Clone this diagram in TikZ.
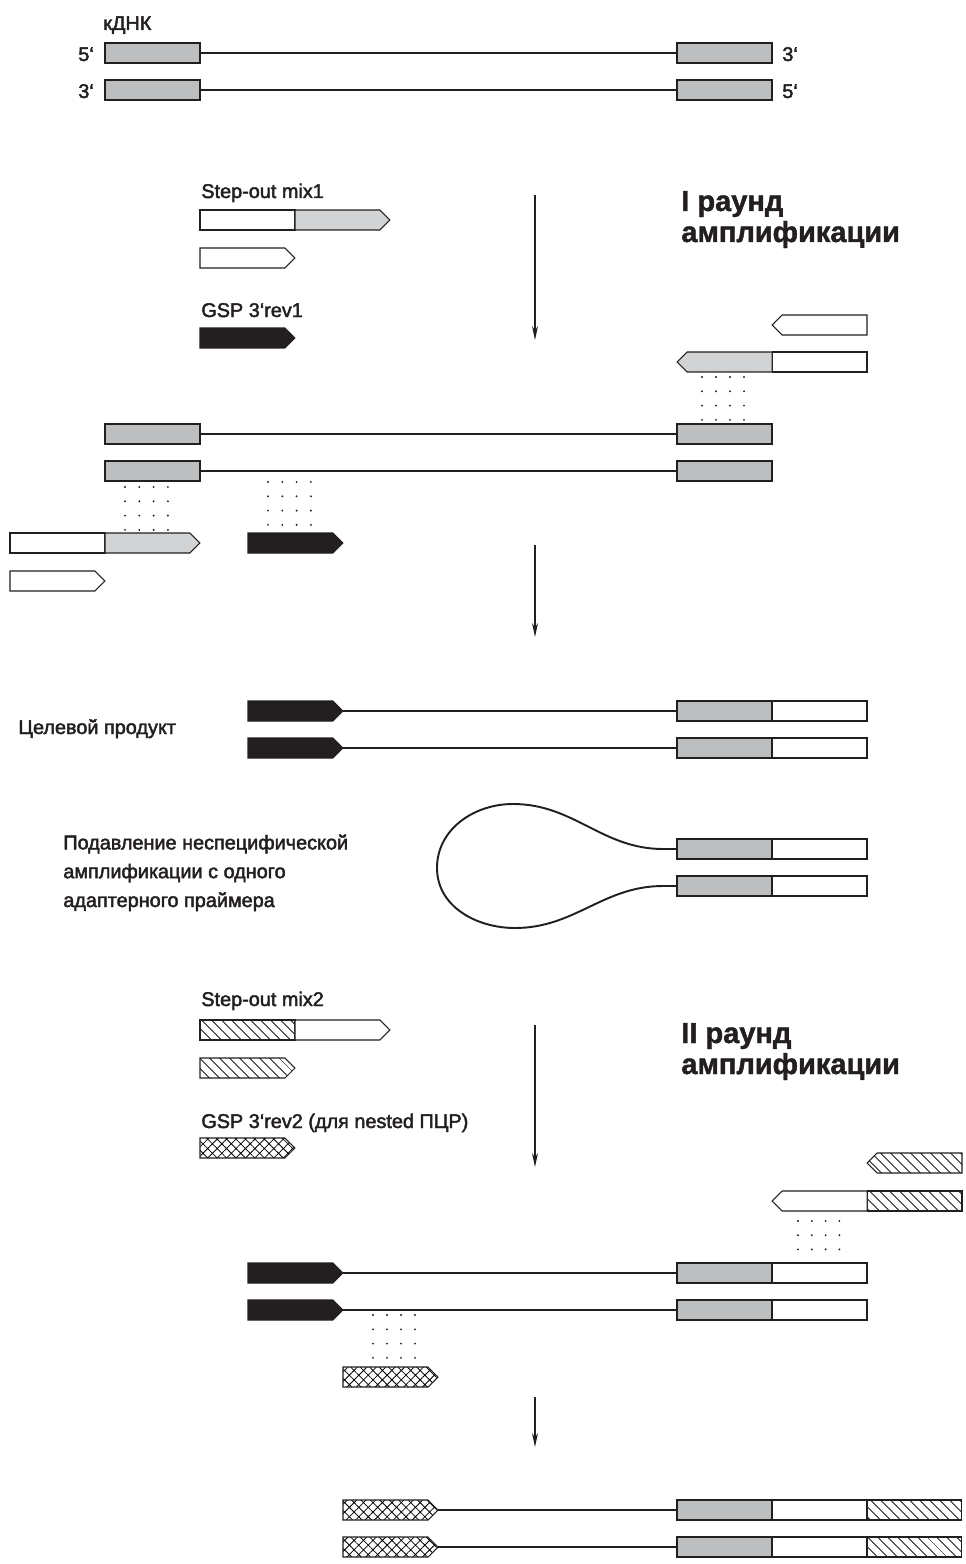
\documentclass[tikz,border=0pt]{standalone}
\usepackage{fontspec}
\setmainfont{Liberation Sans}
\newfontfamily\labelfont[FakeBold=2.2]{Liberation Sans}
\newfontfamily\titlefont[FakeBold=1.5]{Liberation Sans Bold}
\usetikzlibrary{shapes.symbols,patterns.meta,arrows.meta,positioning}
\definecolor{exongray}{HTML}{BCBEC0}
\definecolor{primergray}{HTML}{D1D3D4}
\definecolor{ink}{HTML}{231F20}

\tikzset{
  lbl/.style={font=\labelfont\fontsize{11.3}{16.4}\selectfont, text=ink, inner sep=0pt, anchor=base west, align=left},
  ttl/.style={font=\titlefont\fontsize{16.5}{17}\selectfont, text=ink, inner sep=0pt, anchor=base west},
  strand/.style={draw=ink, line width=1.1pt},
  blk/.style={rectangle, draw=ink, line width=0.6pt, minimum width=1.9cm, minimum height=0.4cm, inner sep=0pt, outer sep=0pt, anchor=west},
  exon/.style={blk, fill=exongray},
  adapter/.style={blk, fill=white},
  hatchbox/.style={blk, pattern={Lines[angle=-45,distance=4pt,line width=0.45pt]}},
  primer/.style={signal, signal to=east, signal pointer angle=90, draw=ink, line width=0.6pt, minimum width=1.9cm, minimum height=0.4cm, inner sep=0pt, outer sep=0pt, anchor=west},
  rprimer/.style={primer, signal to=west, anchor=east},
  grayp/.style={fill=primergray},
  whitep/.style={fill=white},
  gsp/.style={fill=ink},
  hatchp/.style={pattern={Lines[angle=-45,distance=4pt,line width=0.45pt]}},
  nestp/.style={pattern={Hatch[angle=45,distance=3.8pt,line width=0.45pt]}},
  stepline/.style={draw=ink, line width=0.6pt, -{Stealth[length=8pt,width=3.4pt]}}
}

\begin{document}
\begin{tikzpicture}[x=0.02cm, y=-0.02cm]
\useasboundingbox (0,0) rectangle (965,1564);

% cDNA
\node[lbl] (cdna) at (103,30) {кДНК};
\node[lbl] (e5a) at (78,61) {5‘};
\node[lbl] (e3a) at (78,98) {3‘};
\node[exon] (c1l) at (105,53) {};
\node[exon] (c1r) at (677,53) {};
\node[exon] (c2l) at (105,90) {};
\node[exon] (c2r) at (677,90) {};
\node[lbl] (e3b) at (782,61) {3‘};
\node[lbl] (e5b) at (782,98) {5‘};
\draw[strand] (c1l) -- (c1r);
\draw[strand] (c2l) -- (c2r);

% round I
\node[lbl] (mix1) at (201,198) {Step-out mix1};
\node[adapter] (m1w) at (200,220) {};
\node[primer, grayp, right=0pt of m1w] (m1g) {};
\node[primer, whitep] (m1s) at (200,258) {};
\node[lbl] (gsp1) at (201,317) {GSP 3‘rev1};
\node[primer, gsp] (g1) at (200,338) {};
\node[ttl] (r1a) at (681,211) {I раунд};
\node[ttl] (r1b) at (681,242) {амплификации};
\coordinate (s1a) at (535,195);
\coordinate (s1b) at (535,340);
\draw[stepline] (s1a) -- (s1b);

\node[rprimer, whitep] (q1) at (867,325) {};
\node[adapter, anchor=east] (q2w) at (867,362) {};
\node[rprimer, grayp, left=0pt of q2w] (q2g) {};
\foreach \i in {0,...,3}
  \foreach \j in {0,...,3}
    \fill[ink] (702+14*\i,377+14.3*\j) circle[radius=0.6pt];

\node[exon] (d1l) at (105,434) {};
\node[exon] (d1r) at (677,434) {};
\node[exon] (d2l) at (105,471) {};
\node[exon] (d2r) at (677,471) {};
\draw[strand] (d1l) -- (d1r);
\draw[strand] (d2l) -- (d2r);
\foreach \i in {0,...,3}
  \foreach \j in {0,...,3}
    \fill[ink] (125+14.3*\i,487+14.3*\j) circle[radius=0.6pt];
\foreach \i in {0,...,3}
  \foreach \j in {0,...,3}
    \fill[ink] (268+14.3*\i,482+14.3*\j) circle[radius=0.6pt];
\node[adapter] (l1w) at (10,543) {};
\node[primer, grayp, right=0pt of l1w] (l1g) {};
\node[primer, whitep] (l2) at (10,581) {};
\node[primer, gsp] (g1b) at (248,543) {};
\coordinate (s2a) at (535,545);
\coordinate (s2b) at (535,637);
\draw[stepline] (s2a) -- (s2b);

% product
\node[lbl] (target) at (18,734) {Целевой продукт};
\node[primer, gsp] (t1g) at (248,711) {};
\node[exon] (t1e) at (677,711) {};
\node[adapter, right=0pt of t1e] (t1a) {};
\node[primer, gsp] (t2g) at (248,748) {};
\node[exon] (t2e) at (677,748) {};
\node[adapter, right=0pt of t2e] (t2a) {};
\draw[strand] (t1g) -- (t1e);
\draw[strand] (t2g) -- (t2e);

% suppression
\node[lbl] (supp) at (63,907) {Подавление неспецифической\\амплификации с одного\\адаптерного праймера};
\node[exon] (h1e) at (677,849) {};
\node[adapter, right=0pt of h1e] (h1a) {};
\node[exon] (h2e) at (677,886) {};
\node[adapter, right=0pt of h2e] (h2a) {};
\draw[strand] (h1e.west) -- (663,849) to[out=180,in=0] (513,804) to[out=180,in=90] (437,868)
  to[out=-90,in=180] (515,928) to[out=0,in=180] (663,886) -- (h2e.west);

% round II
\node[lbl] (mix2) at (201,1006) {Step-out mix2};
\node[hatchbox] (m2h) at (200,1030) {};
\node[primer, whitep, right=0pt of m2h] (m2w) {};
\node[primer, hatchp] (m2s) at (200,1068) {};
\node[lbl] (gsp2) at (201,1128) {GSP 3‘rev2 (для nested ПЦР)};
\node[primer, nestp] (g2) at (200,1148) {};
\node[ttl] (r2a) at (681,1043) {II раунд};
\node[ttl] (r2b) at (681,1074) {амплификации};
\coordinate (s3a) at (535,1025);
\coordinate (s3b) at (535,1167);
\draw[stepline] (s3a) -- (s3b);

\node[rprimer, hatchp] (q3) at (962,1163) {};
\node[hatchbox, anchor=east] (q4h) at (962,1201) {};
\node[rprimer, whitep, left=0pt of q4h] (q4w) {};
\foreach \i in {0,...,3}
  \foreach \j in {0,...,3}
    \fill[ink] (798+13.8*\i,1221+14.2*\j) circle[radius=0.6pt];

\node[primer, gsp] (u1g) at (248,1273) {};
\node[exon] (u1e) at (677,1273) {};
\node[adapter, right=0pt of u1e] (u1a) {};
\node[primer, gsp] (u2g) at (248,1310) {};
\node[exon] (u2e) at (677,1310) {};
\node[adapter, right=0pt of u2e] (u2a) {};
\draw[strand] (u1g) -- (u1e);
\draw[strand] (u2g) -- (u2e);
\foreach \i in {0,...,3}
  \foreach \j in {0,...,3}
    \fill[ink] (373+14*\i,1315+14.3*\j) circle[radius=0.6pt];
\node[primer, nestp] (g2b) at (343,1377) {};
\coordinate (s4a) at (535,1397);
\coordinate (s4b) at (535,1447);
\draw[stepline] (s4a) -- (s4b);

% final product
\node[primer, nestp] (f1n) at (343,1510) {};
\node[exon] (f1e) at (677,1510) {};
\node[adapter, right=0pt of f1e] (f1a) {};
\node[hatchbox, right=0pt of f1a] (f1h) {};
\node[primer, nestp] (f2n) at (343,1547) {};
\node[exon] (f2e) at (677,1547) {};
\node[adapter, right=0pt of f2e] (f2a) {};
\node[hatchbox, right=0pt of f2a] (f2h) {};
\draw[strand] (f1n) -- (f1e);
\draw[strand] (f2n) -- (f2e);
\end{tikzpicture}
\end{document}
